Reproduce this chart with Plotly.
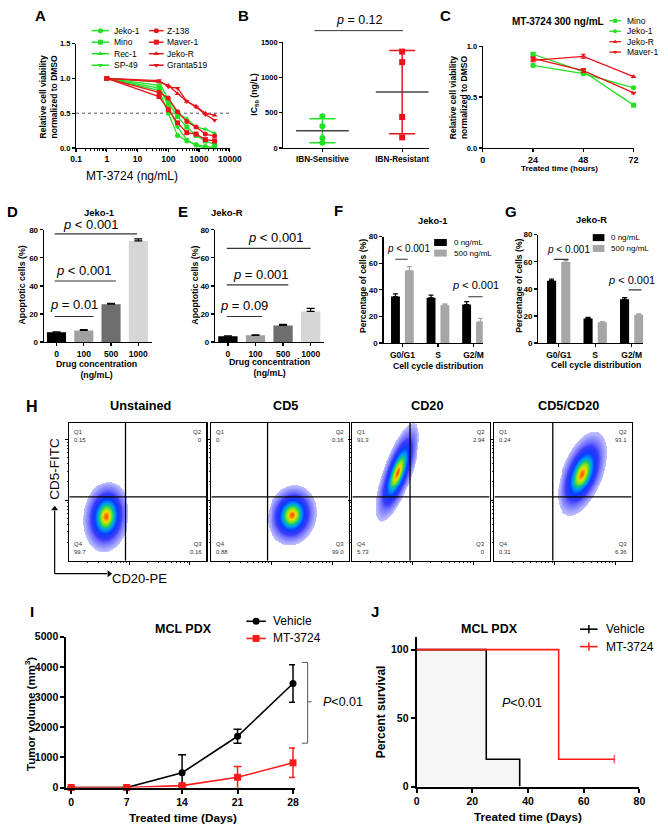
import numpy as np
import plotly.graph_objects as go

W, H = 668, 831
FONT = "Arial, 'Liberation Sans', sans-serif"
GREEN = "#22e022"
RED = "#e8141c"

# ---------------- data ----------------
# A: dose-response
a_conc = [1, 50, 100, 200, 400, 800, 1600, 3200]
a_jeko1 = [1.0, 0.83, 0.50, 0.18, 0.10, 0.05, 0.02, 0.01]
a_mino = [1.0, 0.86, 0.65, 0.45, 0.30, 0.18, 0.10, 0.05]
a_rec1 = [1.0, 0.95, 0.70, 0.50, 0.42, 0.30, 0.27, 0.21]
a_sp49 = [1.0, 0.90, 0.60, 0.30, 0.12, 0.03, 0.00, 0.00]
a_z138 = [1.0, 0.80, 0.72, 0.52, 0.38, 0.30, 0.20, 0.17]
a_maver1 = [1.0, 0.74, 0.55, 0.36, 0.22, 0.20, 0.12, 0.10]
a_jekor = [1.0, 0.95, 0.90, 0.78, 0.67, 0.60, 0.50, 0.47]
a_granta = [1.0, 0.97, 0.88, 0.86, 0.67, 0.59, 0.48, 0.40]
a_ticks = [0.1, 1, 10, 100, 1000, 10000]
a_ticktext = ["0.1", "1", "10", "100", "1000", "10000"]

# B: IC50
b_groups = ["IBN-Sensitive", "IBN-Resistant"]
b_sens = [450, 310, 140, 75]
b_res = [1370, 1220, 440, 150]

# C: time course
c_hours = [24, 48, 72]
c_mino = [0.92, 0.75, 0.42]
c_jeko1 = [0.81, 0.73, 0.59]
c_jekor = [0.86, 0.90, 0.70]
c_maver1 = [0.88, 0.76, 0.54]
c_err = [0.015, 0.02, 0.01]

# D / E: apoptosis
de_labels = ["0", "100", "500", "1000"]
de_colors = ["#000000", "#a0a0a0", "#6e6e6e", "#d6d6d6"]
d_vals = [7.0, 8.3, 27.0, 72.0]
d_err = [0.3, 0.6, 0.5, 1.5]
e_vals = [4.2, 4.8, 11.8, 21.8]
e_err = [0.3, 0.4, 0.8, 2.2]

# F / G: cell cycle
fg_phase = ["G0/G1", "S", "G2/M"]
f_ctrl = [35.0, 34.0, 29.0]
f_ctrl_err = [2.0, 2.0, 2.2]
f_trt = [54.5, 28.5, 16.0]
f_trt_err = [3.0, 1.0, 2.5]
g_ctrl = [46.0, 18.2, 32.3]
g_ctrl_err = [1.2, 0.8, 1.2]
g_trt = [59.8, 15.3, 20.8]
g_trt_err = [1.2, 0.6, 0.8]

# H: flow cytometry (cloud centre / spread on a 0-1 display scale)
h_titles = ["Unstained", "CD5", "CD20", "CD5/CD20"]
h_cx = [0.27, 0.59, 0.33, 0.64]
h_cy = [0.32, 0.33, 0.64, 0.63]
h_sx = [0.065, 0.07, 0.062, 0.07]
h_sy = [0.10, 0.085, 0.14, 0.12]
h_rho = [0.1, 0.1, 0.72, 0.5]
h_qx = [0.41, 0.41, 0.42, 0.425]
h_qy = [0.464, 0.464, 0.464, 0.464]
h_q1 = ["0.15", "0", "91.3", "0.24"]
h_q2 = ["0", "0.16", "2.94", "93.1"]
h_q4 = ["99.7", "0.88", "5.73", "0.31"]
h_q3 = ["0.16", "99.0", "0", "6.36"]

# I: tumour volume
i_days = [0, 7, 14, 21, 28]
i_vehicle = [0, 0, 490, 1700, 3450]
i_vehicle_err = [0, 0, 600, 230, 620]
i_mt = [0, 0, 65, 340, 820]
i_mt_err = [0, 0, 40, 360, 490]

# J: survival
j_veh_t = [0, 25, 37]
j_veh_s = [100, 20, 0]
j_mt_t = [0, 51, 71]
j_mt_s = [100, 20, 20]

# ---------------- helpers ----------------
def tf(size, bold=True, color="black"):
    return dict(family=FONT, size=size, color=color, weight="bold" if bold else "normal")


def xdom(p0, p1):
    return [p0 / W, p1 / W]


def ydom(top, bottom):
    return [1 - bottom / H, 1 - top / H]


def base_axis(lw=1.2, tick=7.5, ticklen=3):
    return dict(showline=True, linecolor="black", linewidth=lw, ticks="outside",
                ticklen=ticklen, tickwidth=lw, tickcolor="black", showgrid=False,
                zeroline=False, tickfont=tf(tick), fixedrange=True)


fig = go.Figure()
ann = []
shapes = []


def txt(x, y, text, size, bold=True, angle=0, xanchor="center", yanchor="middle",
        xref="x14", yref="y14", color="black"):
    ann.append(dict(x=x, y=y, xref=xref, yref=yref, text=text, showarrow=False,
                    textangle=angle, xanchor=xanchor, yanchor=yanchor,
                    font=tf(size, bold, color)))


layout = dict(width=W, height=H, margin=dict(l=0, r=0, t=0, b=0),
              paper_bgcolor="white", plot_bgcolor="rgba(0,0,0,0)",
              showlegend=False, font=dict(family=FONT, color="black"))

# ---------------- A ----------------
a_minor = [m * 10 ** e for e in range(-1, 4) for m in range(2, 10)]
layout["xaxis"] = {**base_axis(tick=8.5), "domain": xdom(72, 230), "anchor": "y",
                   "type": "log", "range": [-1, 4], "tickmode": "array",
                   "tickvals": a_ticks, "ticktext": a_ticktext,
                   "minor": dict(tickmode="array", tickvals=a_minor, ticks="outside",
                                 ticklen=2, tickcolor="black", tickwidth=1)}
layout["yaxis"] = {**base_axis(), "domain": ydom(38.3, 144), "anchor": "x",
                   "range": [0, 1.5], "tickvals": [0, 0.5, 1.0, 1.5],
                   "ticktext": ["0.0", "0.5", "1.0", "1.5"]}
fig.add_trace(go.Scatter(x=[a_ticks[0], a_ticks[-1]], y=[0.5, 0.5], mode="lines",
                         line=dict(color="#555555", width=1, dash="dot"),
                         xaxis="x", yaxis="y"))
a_series = [(a_jeko1, GREEN, "circle"), (a_mino, GREEN, "square"),
            (a_rec1, GREEN, "triangle-up"), (a_sp49, GREEN, "triangle-down"),
            (a_z138, RED, "circle"), (a_maver1, RED, "square"),
            (a_jekor, RED, "triangle-up"), (a_granta, RED, "triangle-down")]
for vals, col, sym in a_series:
    fig.add_trace(go.Scatter(x=a_conc, y=vals, mode="lines+markers",
                             line=dict(color=col, width=1.3),
                             marker=dict(symbol=sym, size=5, color=col),
                             xaxis="x", yaxis="y", cliponaxis=False))

# ---------------- B ----------------
layout["xaxis2"] = {**base_axis(tick=8.2), "domain": xdom(285, 435), "anchor": "y2",
                    "range": [-0.49, 1.34], "tickvals": [0, 1], "ticktext": b_groups}
layout["yaxis2"] = {**base_axis(), "domain": ydom(37, 144), "anchor": "x2",
                    "range": [0, 1500], "tickvals": [0, 500, 1000, 1500]}
for gi, (vals, col, sym) in enumerate([(b_sens, GREEN, "circle"), (b_res, RED, "square")]):
    mean = float(np.mean(vals))
    sd = float(np.std(vals, ddof=1))
    fig.add_trace(go.Scatter(x=[gi], y=[mean], mode="markers",
                             marker=dict(size=1, color="rgba(0,0,0,0)"),
                             error_y=dict(type="data", array=[sd], color=col,
                                          thickness=1.5, width=13),
                             xaxis="x2", yaxis="y2", cliponaxis=False))
    fig.add_trace(go.Scatter(x=[gi] * len(vals), y=vals, mode="markers",
                             marker=dict(symbol=sym, size=6, color=col),
                             xaxis="x2", yaxis="y2", cliponaxis=False))
    fig.add_trace(go.Scatter(x=[gi], y=[mean], mode="markers",
                             marker=dict(size=1, color="rgba(0,0,0,0)"),
                             error_x=dict(type="data", array=[0.33], color="#444444",
                                          thickness=1.5, width=0),
                             xaxis="x2", yaxis="y2", cliponaxis=False))
shapes.append(dict(type="line", xref="x14", yref="y14", x0=317, x1=408, y0=25, y1=25,
                   line=dict(color="#333333", width=1)))
txt(363, 14, "<i>p</i> = 0.12", 12.5, bold=False)

# ---------------- C ----------------
layout["xaxis3"] = {**base_axis(tick=9), "domain": xdom(490, 645), "anchor": "y3",
                    "range": [0, 72], "tickvals": [0, 24, 48, 72]}
layout["yaxis3"] = {**base_axis(), "domain": ydom(40.7, 144), "anchor": "x3",
                    "range": [0, 1.0], "tickvals": [0, 0.5, 1.0],
                    "ticktext": ["0.0", "0.5", "1.0"]}
c_series = [(c_mino, GREEN, "square"), (c_jeko1, GREEN, "circle"),
            (c_jekor, RED, "triangle-up"), (c_maver1, RED, "triangle-down")]
for vals, col, sym in c_series:
    fig.add_trace(go.Scatter(x=c_hours, y=vals, mode="lines+markers",
                             line=dict(color=col, width=1.3),
                             marker=dict(symbol=sym, size=5, color=col),
                             error_y=dict(type="data", array=c_err, color=col,
                                          thickness=1, width=2.5),
                             xaxis="x3", yaxis="y3", cliponaxis=False))

# ---------------- D / E ----------------
de_axes = [("x4", "y4", 39, 150, d_vals, d_err, -0.46, 3.5),
           ("x5", "y5", 215, 327, e_vals, e_err, -0.46, 3.49)]
for xa, ya, p0, p1, vals, err, r0, r1 in de_axes:
    n = xa[1:]
    layout["xaxis" + n] = {**base_axis(lw=1.3, tick=8.5), "domain": xdom(p0, p1),
                           "anchor": ya, "range": [r0, r1], "tickvals": [0, 1, 2, 3],
                           "ticktext": de_labels}
    layout["yaxis" + n] = {**base_axis(lw=1.3, tick=8), "domain": ydom(227, 341),
                           "anchor": xa, "range": [0, 80],
                           "tickvals": [0, 20, 40, 60, 80]}
    fig.add_trace(go.Bar(x=[0, 1, 2, 3], y=vals, width=0.7,
                         marker=dict(color=de_colors, line=dict(width=0)),
                         error_y=dict(type="data", array=err, arrayminus=[0] * 4,
                                      symmetric=False, color="black", thickness=1.2,
                                      width=4),
                         xaxis=xa, yaxis=ya))

# significance lines (data coords) and their labels (pixel coords)
d_sig = [(-0.07, 1.36, 18.2, 70, 303, "<i>p</i> = 0.01"),
         (-0.07, 2.18, 43.5, 80, 268, "<i>p</i> < 0.001"),
         (-0.07, 2.96, 77.0, 87, 222, "<i>p</i> < 0.001")]
e_sig = [(-0.04, 1.24, 18.2, 245, 304, "<i>p</i> = 0.09"),
         (-0.04, 2.19, 40.7, 262, 272, "<i>p</i> = 0.001"),
         (-0.04, 3.0, 66.7, 277, 235, "<i>p</i> < 0.001")]
f_sig = [(-0.2, 0.15, 63.0, 414, 246, "<i>p</i> < 0.001", 10),
         (1.85, 2.26, 34.8, 483, 283, "<i>p</i> < 0.001", 11)]
g_sig = [(-0.13, 0.27, 61.8, 578, 247, "<i>p</i> < 0.001", 10),
         (1.92, 2.27, 39.3, 643, 278, "<i>p</i> < 0.001", 11)]
for xa, ya, sig in [("x4", "y4", d_sig), ("x5", "y5", e_sig)]:
    for x0, x1, y, tx, ty, label in sig:
        shapes.append(dict(type="line", xref=xa, yref=ya, x0=x0, x1=x1, y0=y, y1=y,
                           line=dict(color="#333333", width=1.2)))
        txt(tx, ty, label, 13, bold=False)

# ---------------- F / G ----------------
fg_axes = [("x6", "y6", 388, 490, 234, -0.53, 2.26, f_ctrl, f_ctrl_err, f_trt, f_trt_err, f_sig),
           ("x7", "y7", 547, 655, 232, -0.56, 2.32, g_ctrl, g_ctrl_err, g_trt, g_trt_err, g_sig)]
for xa, ya, p0, p1, top, r0, r1, ctrl, ctrl_e, trt, trt_e, sig in fg_axes:
    n = xa[1:]
    layout["xaxis" + n] = {**base_axis(lw=1.3, tick=8.5), "domain": xdom(p0, p1),
                           "anchor": ya, "range": [r0, r1], "tickvals": [0, 1, 2],
                           "ticktext": fg_phase}
    layout["yaxis" + n] = {**base_axis(lw=1.3, tick=8), "domain": ydom(top, 342),
                           "anchor": xa, "range": [0, 80],
                           "tickvals": [0, 20, 40, 60, 80]}
    for vals, errs, col, off in [(ctrl, ctrl_e, "#000000", -0.32), (trt, trt_e, "#a6a6a6", 0.07)]:
        fig.add_trace(go.Bar(x=[0, 1, 2], y=vals, width=0.25, offset=off,
                             marker=dict(color=col, line=dict(width=0)),
                             error_y=dict(type="data", array=errs, arrayminus=[0] * 3,
                                          symmetric=False, color=col, thickness=1.2,
                                          width=2.5),
                             xaxis=xa, yaxis=ya))
    for x0, x1, y, tx, ty, label, fs in sig:
        shapes.append(dict(type="line", xref=xa, yref=ya, x0=x0, x1=x1, y0=y, y1=y,
                           line=dict(color="#333333", width=1.2)))
        txt(tx, ty, label, fs, bold=False)

# ---------------- H ----------------
h_px = [(65, 206), (211, 352), (356, 497), (502, 643)]
h_title_x = [138, 287, 433, 578]
grid = np.linspace(0, 1, 141)
GX, GY = np.meshgrid(grid, grid)
h_scale = [[0, "rgba(90,90,255,0.22)"], [0.1, "rgba(50,50,255,0.55)"],
           [0.25, "rgba(25,25,250,0.85)"], [0.45, "#0a3cff"], [0.62, "#0096ff"],
           [0.74, "#10c878"], [0.85, "#7ee61e"], [0.94, "#f2dc00"], [1, "#ff5a00"]]
maj = [0.44, 0.88]
minor_vals = [b + 0.44 * np.log10(k) for b in [0.0, 0.44] for k in range(2, 10)]
for k in range(4):
    n = str(8 + k)
    xa, ya = "x" + n, "y" + n
    ax_common = dict(showline=True, mirror=True, linecolor="black", linewidth=1.1,
                     ticks="outside", ticklen=3, tickcolor="black", tickwidth=1,
                     showgrid=False, zeroline=False, showticklabels=False,
                     range=[0, 1], tickmode="array", tickvals=maj, fixedrange=True,
                     minor=dict(tickmode="array", tickvals=minor_vals, ticks="outside",
                                ticklen=1.5, tickcolor="black", tickwidth=0.8))
    layout["xaxis" + n] = {**ax_common, "domain": xdom(*h_px[k]), "anchor": ya}
    layout["yaxis" + n] = {**ax_common, "domain": ydom(423, 563), "anchor": xa}
    dx = (GX - h_cx[k]) / h_sx[k]
    dy = (GY - h_cy[k]) / h_sy[k]
    q = (dx ** 2 - 2 * h_rho[k] * dx * dy + dy ** 2) / (1 - h_rho[k] ** 2)
    Z = np.exp(-0.5 * q)
    Zl = [[(float(v) if v >= 0.04 else None) for v in row] for row in Z]
    fig.add_trace(go.Heatmap(x=grid, y=grid, z=Zl, colorscale=h_scale, zmin=0, zmax=1,
                             showscale=False, hoverinfo="skip", xaxis=xa, yaxis=ya))
    shapes.append(dict(type="line", xref=xa, yref=ya, x0=h_qx[k], x1=h_qx[k], y0=0, y1=1,
                       line=dict(color="black", width=1.3)))
    shapes.append(dict(type="line", xref=xa, yref=ya, x0=0, x1=1, y0=h_qy[k], y1=h_qy[k],
                       line=dict(color="black", width=1.3)))
    for qx, qy, xan, yan, lab, val in [(0.02, 0.97, "left", "top", "Q1", h_q1[k]),
                                        (0.98, 0.97, "right", "top", "Q2", h_q2[k]),
                                        (0.02, 0.03, "left", "bottom", "Q4", h_q4[k]),
                                        (0.98, 0.03, "right", "bottom", "Q3", h_q3[k])]:
        ann.append(dict(x=qx, y=qy, xref=xa + " domain", yref=ya + " domain",
                        text=lab + "<br>" + val, showarrow=False, xanchor=xan,
                        yanchor=yan, align=xan, font=tf(6, False, "#333333")))
    txt(h_title_x[k], 405.5, h_titles[k], 12.7)

txt(50, 470, "CD5-FITC", 13.5, bold=False, angle=-90)
txt(137, 581, "CD20-PE", 13, bold=False)

# ---------------- I ----------------
layout["xaxis12"] = {**base_axis(lw=2, tick=10.5, ticklen=4), "domain": xdom(62, 297),
                     "anchor": "y12", "range": [-0.614, 28.25], "tickvals": i_days}
layout["yaxis12"] = {**base_axis(lw=2, tick=10.5, ticklen=4), "domain": ydom(640, 793),
                     "anchor": "x12", "range": [0, 5000],
                     "tickvals": [0, 1000, 2000, 3000, 4000, 5000]}
fig.add_trace(go.Scatter(x=i_days, y=i_vehicle, mode="lines+markers",
                         line=dict(color="black", width=1.6),
                         marker=dict(symbol="circle", size=7, color="black"),
                         error_y=dict(type="data", array=i_vehicle_err, color="black",
                                      thickness=1.5, width=4),
                         xaxis="x12", yaxis="y12", cliponaxis=False))
fig.add_trace(go.Scatter(x=i_days, y=i_mt, mode="lines+markers",
                         line=dict(color="#ff1a1a", width=1.6),
                         marker=dict(symbol="square", size=7, color="#ff1a1a"),
                         error_y=dict(type="data", array=i_mt_err, color="#ff1a1a",
                                      thickness=1.5, width=4),
                         xaxis="x12", yaxis="y12", cliponaxis=False))
for x0, y0, x1, y1 in [(310, 666, 310, 748), (304, 666, 310, 666),
                       (304, 748, 310, 748), (310, 706, 314, 706)]:
    shapes.append(dict(type="line", xref="x14", yref="y14", x0=x0, y0=y0, x1=x1, y1=y1,
                       line=dict(color="#555555", width=1)))
txt(346, 706, "<i>P</i><0.01", 12.5, bold=False)

# ---------------- J ----------------
layout["xaxis13"] = {**base_axis(lw=2, tick=10.5, ticklen=4), "domain": xdom(422, 651),
                     "anchor": "y13", "range": [0, 80], "tickvals": [0, 20, 40, 60, 80]}
layout["yaxis13"] = {**base_axis(lw=2, tick=10.5, ticklen=4), "domain": ydom(640, 792),
                     "anchor": "x13", "range": [0, 109.4], "tickvals": [0, 50, 100]}
fig.add_trace(go.Scatter(x=j_veh_t, y=j_veh_s, mode="lines", line_shape="hv",
                         line=dict(color="black", width=1.6), fill="tozeroy",
                         fillcolor="#f6f6f6", xaxis="x13", yaxis="y13",
                         cliponaxis=False))
fig.add_trace(go.Scatter(x=j_mt_t, y=j_mt_s, mode="lines+markers", line_shape="hv",
                         line=dict(color="#ff1a1a", width=1.6),
                         marker=dict(symbol="line-ns", size=[0, 0, 6],
                                     line=dict(color="#ff1a1a", width=1.5)),
                         xaxis="x13", yaxis="y13", cliponaxis=False))
txt(37.7, 61, "<i>P</i><0.01", 12.5, bold=False, xref="x13", yref="y13")

# ---------------- overlay pixel axis: legends and H axis arrows ----------------
layout["xaxis14"] = dict(domain=[0, 1], range=[0, W], visible=False, anchor="y14",
                         fixedrange=True)
layout["yaxis14"] = dict(domain=[0, 1], range=[H, 0], visible=False, anchor="x14",
                         fixedrange=True)

# axis arrows of panel H
for xs, ys, hx, hy, sym in [([50, 50], [576, 512], 50, 510, "triangle-up"),
                            ([50, 104], [576, 576], 106, 576, "triangle-right")]:
    fig.add_trace(go.Scatter(x=xs, y=ys, mode="lines", line=dict(color="black", width=1.2),
                             xaxis="x14", yaxis="y14", hoverinfo="skip"))
    fig.add_trace(go.Scatter(x=[hx], y=[hy], mode="markers",
                             marker=dict(symbol=sym, size=6, color="black"),
                             xaxis="x14", yaxis="y14", hoverinfo="skip"))


def add_legend(x0, y0, dy, glen, tgap, entries, fsize):
    for i, (name, color, sym, msize, lw) in enumerate(entries):
        y = y0 + i * dy
        fig.add_trace(go.Scatter(x=[x0, x0 + glen], y=[y, y], mode="lines",
                                 line=dict(color=color, width=lw),
                                 xaxis="x14", yaxis="y14", hoverinfo="skip"))
        if sym:
            mk = dict(symbol=sym, size=msize, color=color)
            if sym.startswith("line"):
                mk["line"] = dict(color=color, width=1.5)
            fig.add_trace(go.Scatter(x=[x0 + glen / 2], y=[y], mode="markers",
                                     marker=mk, xaxis="x14", yaxis="y14",
                                     hoverinfo="skip"))
        txt(x0 + glen + tgap, y, name, fsize, bold=False, xanchor="left")


add_legend(88, 25, 11.7, 18, 2.5,
           [(n, GREEN, s, 5, 1.5) for n, s in zip(["Jeko-1", "Mino", "Rec-1", "SP-49"],
                                                 ["circle", "square", "triangle-up", "triangle-down"])], 8.5)
add_legend(147, 25, 11.7, 15, 1.5,
           [(n, RED, s, 5, 1.5) for n, s in zip(["Z-138", "Maver-1", "Jeko-R", "Granta519"],
                                               ["circle", "square", "triangle-up", "triangle-down"])], 8.5)
add_legend(620, 15, 10.6, 12, 4.5,
           [("Mino", GREEN, "square", 4, 1.3), ("Jeko-1", GREEN, "circle", 4, 1.3),
            ("Jeko-R", RED, "triangle-up", 4, 1.3), ("Maver-1", RED, "triangle-down", 4, 1.3)], 8.5)
add_legend(440, 240, 10.7, 13, 5, [("0 ng/mL", "#000000", None, 0, 7),
                                   ("500 ng/mL", "#a6a6a6", None, 0, 7)], 8)
add_legend(603, 235, 11, 12, 5, [("0 ng/mL", "#000000", None, 0, 7),
                                 ("500 ng/mL", "#a6a6a6", None, 0, 7)], 8)
add_legend(247, 624.3, 17.4, 20, 5, [("Vehicle", "black", "circle", 7, 1.6),
                                     ("MT-3724", "#ff1a1a", "square", 7, 1.6)], 12)
add_legend(590, 632.3, 17.7, 18, 7, [("Vehicle", "black", "line-ns", 6, 1.6),
                                     ("MT-3724", "#ff1a1a", "line-ns", 6, 1.6)], 12)

# ---------------- panel letters, titles, axis titles ----------------
for L, x, y, s in [("A", 35.5, 10, 15), ("B", 244, 10, 15), ("C", 452, 10, 15),
                   ("D", 7, 208, 15), ("E", 182, 208, 15), ("F", 342, 207, 15),
                   ("G", 519, 208, 15), ("H", 27, 406, 16), ("I", 27, 614, 15),
                   ("J", 379, 614, 15)]:
    txt(x, y, L, s)

txt(567, 16, "MT-3724 300 ng/mL", 10)
txt(96, 210, "Jeko-1", 9.5)
txt(227, 210, "Jeko-R", 9.5)
txt(438, 218, "Jeko-1", 9.3)
txt(602, 217, "Jeko-R", 9.3)
txt(182, 632, "MCL PDX", 12.5)
txt(497, 632, "MCL PDX", 12.5)

txt(44, 92, "Relative cell viability<br>normalized to DMSO", 8.5, angle=-90)
txt(129, 172.5, "MT-3724 (ng/mL)", 12, bold=False)
txt(256, 90, "IC<sub>50</sub> (ng/L)", 8.8, angle=-90)
txt(465, 92, "Relative cell viability<br>normalized to DMSO", 8.5, angle=-90)
txt(569, 165, "Treated time (hours)", 8)
txt(16, 283, "Apoptotic cells (%)", 8.8, angle=-90)
txt(194, 283, "Apoptotic cells (%)", 8.8, angle=-90)
txt(93, 368.5, "Drug concentration<br>(ng/mL)", 8.8)
txt(271, 366.5, "Drug concentration<br>(ng/mL)", 8.8)
txt(367, 284, "Percentage of cells (%)", 8.6, angle=-90)
txt(527, 284, "Percentage of cells (%)", 8.6, angle=-90)
txt(444, 365, "Cell cycle distribution", 8.7)
txt(606, 364, "Cell cycle distribution", 8.7)
txt(24, 718, "Tumor volume (mm<sup>3</sup>)", 11.5, angle=-90)
txt(182, 823, "Treated time (Days)", 11.7)
txt(385, 716, "Percent survival", 12, angle=-90)
txt(536, 822, "Treated time (Days)", 11.7)

layout["annotations"] = ann
layout["shapes"] = shapes
fig.update_layout(**layout)
fig.write_html("out.html",
               config={"displayModeBar": False, "staticPlot": True},
               post_script="document.body.style.margin='0px';"
                           "document.body.style.padding='0px';"
                           "document.body.style.overflow='hidden';")
